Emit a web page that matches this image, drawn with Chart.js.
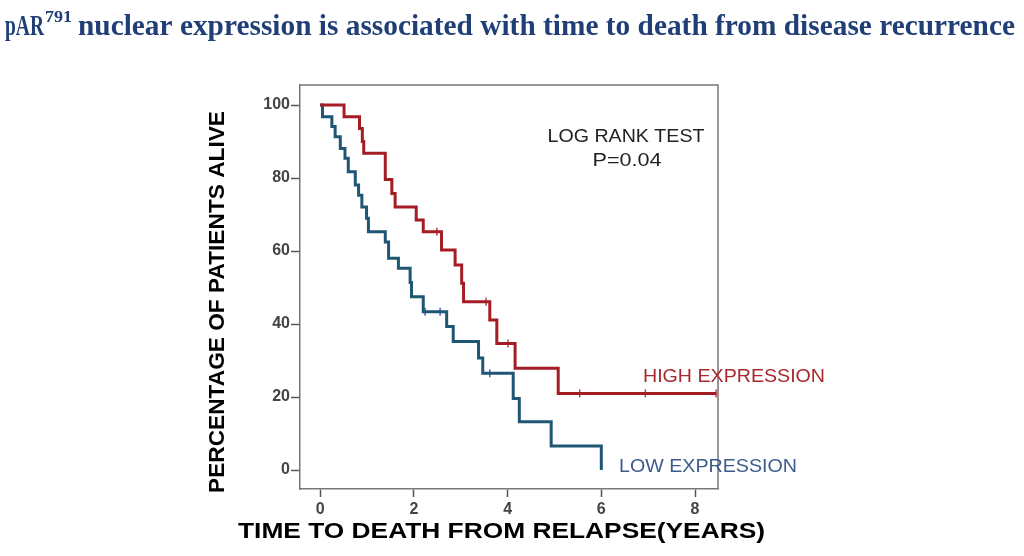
<!DOCTYPE html>
<html>
<head>
<meta charset="utf-8">
<script src="https://cdn.jsdelivr.net/npm/chart.js@4.4.1/dist/chart.umd.min.js"></script>
<style>
  html, body { margin: 0; padding: 0; background: #fff; }
  #km-chart { display: block; }
</style>
</head>
<body>
<canvas id="km-chart" width="1024" height="556"></canvas>
<script>
'use strict';

// --- Data (years, % alive) ---
const highTimes = [0, 0.51, 0.84, 0.90, 0.93, 1.39, 1.53, 1.60, 2.05, 2.20, 2.59, 2.88, 3.02, 3.06, 3.62, 3.77, 4.16, 5.08, 8.45];
const highSurv  = [100, 96.8, 93.6, 90.0, 86.8, 79.6, 75.8, 72.1, 68.5, 65.3, 60.3, 56.2, 51.2, 46.1, 41.1, 34.7, 27.9, 21.0, 21.0];
const lowTimes  = [0, 0.05, 0.25, 0.32, 0.43, 0.53, 0.60, 0.75, 0.82, 0.89, 0.99, 1.03, 1.39, 1.46, 1.67, 1.92, 1.95, 2.20, 2.70, 2.84, 3.38, 3.47, 4.12, 4.25, 4.93, 6.00];
const lowSurv   = [100, 96.8, 94.1, 91.3, 88.1, 85.4, 81.7, 78.1, 75.3, 72.1, 69.0, 65.3, 62.5, 58.0, 55.3, 51.4, 47.5, 43.4, 39.3, 35.2, 30.7, 26.5, 19.6, 13.2, 6.6, 0];

// censored observations (tick marks)
const highCensorTimes = [2.49, 3.54, 4.01, 5.54, 6.94, 8.45];
const highCensorSurv  = [65.3, 46.1, 34.7, 21.0, 21.0, 21.0];
const lowCensorTimes  = [2.24, 2.56, 3.62];
const lowCensorSurv   = [43.4, 43.4, 26.5];

const xTicks = [0, 2, 4, 6, 8];
const yTicks = [0, 20, 40, 60, 80, 100];

const RED = '#a51d24';
const BLUE = '#1f5673';

function pts(xs, ys) {
  return xs.map((x, i) => ({ x: x, y: ys[i] }));
}

// draw text squeezed/stretched to a given width
function fitText(ctx, text, x, y, w, font, color, align) {
  ctx.save();
  ctx.font = font;
  ctx.fillStyle = color;
  ctx.textAlign = 'left';
  ctx.textBaseline = 'alphabetic';
  const m = ctx.measureText(text).width;
  let left = x;
  if (align === 'center') left = x - w / 2;
  ctx.translate(left, y);
  ctx.scale(w / m, 1);
  ctx.fillText(text, 0, 0);
  ctx.restore();
}

const decorPlugin = {
  id: 'decor',
  afterDraw(chart) {
    const ctx = chart.ctx;
    const a = chart.chartArea;

    // frame (top + right sides)
    ctx.save();
    ctx.strokeStyle = '#777';
    ctx.lineWidth = 1.5;
    ctx.beginPath();
    ctx.moveTo(a.left, a.top);
    ctx.lineTo(a.right, a.top);
    ctx.lineTo(a.right, a.bottom);
    ctx.stroke();
    ctx.restore();

    // main title with superscript
    const navy = '#213f77';
    fitText(ctx, 'pAR', 5, 35, 39, 'bold 29px "Liberation Serif"', navy);
    fitText(ctx, '791', 45, 22, 27, 'bold 17px "Liberation Serif"', navy);
    fitText(ctx, 'nuclear expression is associated with time to death from disease recurrence', 78, 35, 937, 'bold 29px "Liberation Serif"', navy);

    // log rank annotation
    fitText(ctx, 'LOG RANK TEST', 626, 142, 157, '19px "Liberation Sans"', '#222', 'center');
    fitText(ctx, 'P=0.04', 627, 166, 69, '19px "Liberation Sans"', '#222', 'center');

    // group labels
    fitText(ctx, 'HIGH EXPRESSION', 643, 382, 182, '18px "Liberation Sans"', '#a8282d');
    fitText(ctx, 'LOW EXPRESSION', 619, 472, 178, '18px "Liberation Sans"', '#3b5c8c');

    // axis titles
    fitText(ctx, 'TIME TO DEATH FROM RELAPSE(YEARS)', 238, 538, 527, 'bold 22px "Liberation Sans"', '#000');

    ctx.save();
    ctx.translate(224, 302);
    ctx.rotate(-Math.PI / 2);
    fitText(ctx, 'PERCENTAGE OF PATIENTS ALIVE', 0, 0, 382, 'bold 22px "Liberation Sans"', '#000', 'center');
    ctx.restore();
  }
};

new Chart(document.getElementById('km-chart'), {
  type: 'line',
  data: {
    datasets: [
      {
        label: 'High expression',
        data: pts(highTimes, highSurv),
        borderColor: RED,
        borderWidth: 3,
        stepped: 'before',
        pointRadius: 0,
        fill: false,
      },
      {
        label: 'Low expression',
        data: pts(lowTimes, lowSurv),
        borderColor: BLUE,
        borderWidth: 3,
        stepped: 'before',
        pointRadius: 0,
        fill: false,
      },
      {
        label: 'High censored',
        data: pts(highCensorTimes, highCensorSurv),
        showLine: false,
        pointStyle: 'line',
        rotation: 90,
        pointRadius: 4,
        borderColor: '#b8454a',
        borderWidth: 1.5,
      },
      {
        label: 'Low censored',
        data: pts(lowCensorTimes, lowCensorSurv),
        showLine: false,
        pointStyle: 'line',
        rotation: 90,
        pointRadius: 4,
        borderColor: '#4a5bc4',
        borderWidth: 1.5,
      }
    ]
  },
  options: {
    responsive: false,
    animation: false,
    layout: { padding: { left: 0, top: 85, right: 306, bottom: 0 } },
    plugins: {
      legend: { display: false },
      tooltip: { enabled: false }
    },
    scales: {
      x: {
        type: 'linear',
        min: -0.43,
        max: 8.49,
        afterBuildTicks: s => { s.ticks = xTicks.map(v => ({ value: v })); },
        afterFit: s => { s.height = 67; },
        grid: { drawOnChartArea: false, drawTicks: true, tickLength: 8, tickColor: '#555', tickWidth: 1.5 },
        border: { display: true, color: '#777', width: 1.5 },
        ticks: { color: '#444', padding: 3, font: { size: 16, weight: 'bold', family: 'Liberation Sans' } }
      },
      y: {
        type: 'linear',
        min: -5.2,
        max: 105.5,
        afterBuildTicks: s => { s.ticks = yTicks.map(v => ({ value: v })); },
        afterFit: s => { s.width = 300; },
        grid: { drawOnChartArea: false, drawTicks: true, tickLength: 9, tickColor: '#555', tickWidth: 1.5 },
        border: { display: true, color: '#777', width: 1.5 },
        ticks: { color: '#444', padding: 1, font: { size: 16, weight: 'bold', family: 'Liberation Sans' } }
      }
    }
  },
  plugins: [decorPlugin]
});
</script>
</body>
</html>
